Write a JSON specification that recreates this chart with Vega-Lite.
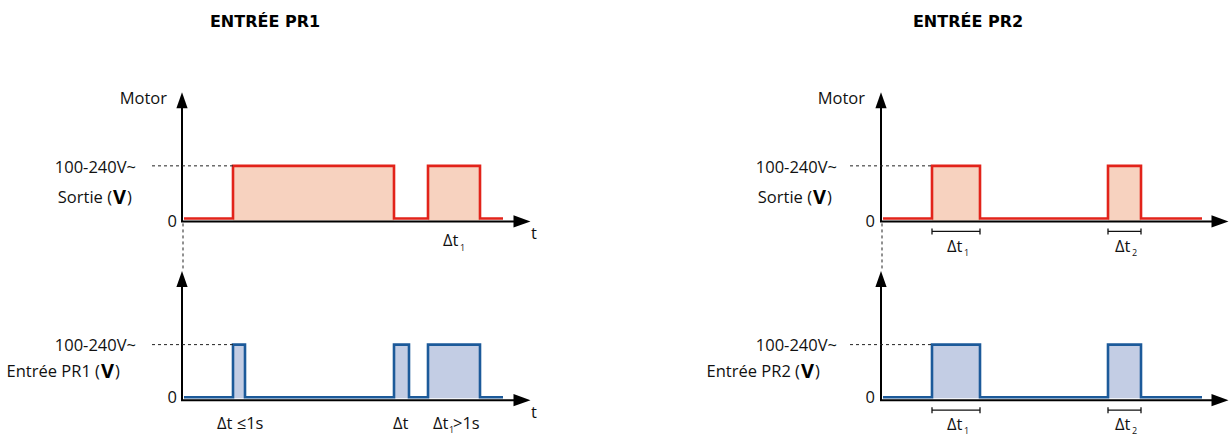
{
  "$schema": "https://vega.github.io/schema/vega-lite/v6.json",
  "width": 1229,
  "height": 436,
  "padding": 0,
  "autosize": {"type": "fit", "contains": "padding"},
  "config": {"view": {"stroke": null}, "text": {"font": "Open Sans", "fontSize": 16.5, "color": "#111"}},
  "datasets": {
    "fills": [
      {"x": 233, "x2": 394, "y": 167, "y2": 222, "sig": "motor"},
      {"x": 428, "x2": 480, "y": 167, "y2": 222, "sig": "motor"},
      {"x": 932, "x2": 980, "y": 167, "y2": 222, "sig": "motor"},
      {"x": 1108, "x2": 1141, "y": 167, "y2": 222, "sig": "motor"},
      {"x": 233, "x2": 245, "y": 347, "y2": 401, "sig": "input"},
      {"x": 394, "x2": 409, "y": 347, "y2": 401, "sig": "input"},
      {"x": 428, "x2": 480, "y": 347, "y2": 401, "sig": "input"},
      {"x": 932, "x2": 980, "y": 347, "y2": 401, "sig": "input"},
      {"x": 1108, "x2": 1141, "y": 347, "y2": 401, "sig": "input"}
    ],
    "signals": [
      {"series": "s1", "sig": "motor", "i": 1, "x": 184, "y": 220},
      {"series": "s1", "sig": "motor", "i": 2, "x": 233, "y": 220},
      {"series": "s1", "sig": "motor", "i": 3, "x": 233, "y": 167},
      {"series": "s1", "sig": "motor", "i": 4, "x": 394, "y": 167},
      {"series": "s1", "sig": "motor", "i": 5, "x": 394, "y": 220},
      {"series": "s1", "sig": "motor", "i": 6, "x": 428, "y": 220},
      {"series": "s1", "sig": "motor", "i": 7, "x": 428, "y": 167},
      {"series": "s1", "sig": "motor", "i": 8, "x": 480, "y": 167},
      {"series": "s1", "sig": "motor", "i": 9, "x": 480, "y": 220},
      {"series": "s1", "sig": "motor", "i": 10, "x": 503, "y": 220},
      {"series": "s2", "sig": "input", "i": 1, "x": 184, "y": 400},
      {"series": "s2", "sig": "input", "i": 2, "x": 233, "y": 400},
      {"series": "s2", "sig": "input", "i": 3, "x": 233, "y": 347},
      {"series": "s2", "sig": "input", "i": 4, "x": 245, "y": 347},
      {"series": "s2", "sig": "input", "i": 5, "x": 245, "y": 400},
      {"series": "s2", "sig": "input", "i": 6, "x": 394, "y": 400},
      {"series": "s2", "sig": "input", "i": 7, "x": 394, "y": 347},
      {"series": "s2", "sig": "input", "i": 8, "x": 409, "y": 347},
      {"series": "s2", "sig": "input", "i": 9, "x": 409, "y": 400},
      {"series": "s2", "sig": "input", "i": 10, "x": 428, "y": 400},
      {"series": "s2", "sig": "input", "i": 11, "x": 428, "y": 347},
      {"series": "s2", "sig": "input", "i": 12, "x": 480, "y": 347},
      {"series": "s2", "sig": "input", "i": 13, "x": 480, "y": 400},
      {"series": "s2", "sig": "input", "i": 14, "x": 503, "y": 400},
      {"series": "s3", "sig": "motor", "i": 1, "x": 883, "y": 220},
      {"series": "s3", "sig": "motor", "i": 2, "x": 932, "y": 220},
      {"series": "s3", "sig": "motor", "i": 3, "x": 932, "y": 167},
      {"series": "s3", "sig": "motor", "i": 4, "x": 980, "y": 167},
      {"series": "s3", "sig": "motor", "i": 5, "x": 980, "y": 220},
      {"series": "s3", "sig": "motor", "i": 6, "x": 1108, "y": 220},
      {"series": "s3", "sig": "motor", "i": 7, "x": 1108, "y": 167},
      {"series": "s3", "sig": "motor", "i": 8, "x": 1141, "y": 167},
      {"series": "s3", "sig": "motor", "i": 9, "x": 1141, "y": 220},
      {"series": "s3", "sig": "motor", "i": 10, "x": 1202, "y": 220},
      {"series": "s4", "sig": "input", "i": 1, "x": 883, "y": 400},
      {"series": "s4", "sig": "input", "i": 2, "x": 932, "y": 400},
      {"series": "s4", "sig": "input", "i": 3, "x": 932, "y": 347},
      {"series": "s4", "sig": "input", "i": 4, "x": 980, "y": 347},
      {"series": "s4", "sig": "input", "i": 5, "x": 980, "y": 400},
      {"series": "s4", "sig": "input", "i": 6, "x": 1108, "y": 400},
      {"series": "s4", "sig": "input", "i": 7, "x": 1108, "y": 347},
      {"series": "s4", "sig": "input", "i": 8, "x": 1141, "y": 347},
      {"series": "s4", "sig": "input", "i": 9, "x": 1141, "y": 400},
      {"series": "s4", "sig": "input", "i": 10, "x": 1202, "y": 400}
    ],
    "axes": [
      {"x": 182, "y": 223, "x2": 182, "y2": 105},
      {"x": 181, "y": 223, "x2": 516, "y2": 223},
      {"x": 182, "y": 403, "x2": 182, "y2": 285},
      {"x": 181, "y": 403, "x2": 516, "y2": 403},
      {"x": 881, "y": 223, "x2": 881, "y2": 105},
      {"x": 880, "y": 223, "x2": 1214, "y2": 223},
      {"x": 881, "y": 403, "x2": 881, "y2": 285},
      {"x": 880, "y": 403, "x2": 1214, "y2": 403}
    ],
    "arrowsUp": [
      {"x": 182, "y": 101}, {"x": 182, "y": 281}, {"x": 881, "y": 101}, {"x": 881, "y": 281}
    ],
    "arrowsRight": [
      {"x": 522, "y": 223}, {"x": 522, "y": 403}, {"x": 1220, "y": 223}, {"x": 1220, "y": 403}
    ],
    "dashes": [
      {"x": 152, "y": 167, "x2": 233, "y2": 167},
      {"x": 152, "y": 347, "x2": 233, "y2": 347},
      {"x": 850, "y": 167, "x2": 932, "y2": 167},
      {"x": 850, "y": 347, "x2": 932, "y2": 347},
      {"x": 183, "y": 225, "x2": 183, "y2": 272},
      {"x": 882, "y": 225, "x2": 882, "y2": 272}
    ],
    "brackets": [
      {"x": 932, "y": 233, "x2": 980, "y2": 233},
      {"x": 932, "y": 230, "x2": 932, "y2": 236},
      {"x": 980, "y": 230, "x2": 980, "y2": 236},
      {"x": 1108, "y": 233, "x2": 1141, "y2": 233},
      {"x": 1108, "y": 230, "x2": 1108, "y2": 236},
      {"x": 1141, "y": 230, "x2": 1141, "y2": 236},
      {"x": 932, "y": 413, "x2": 980, "y2": 413},
      {"x": 932, "y": 410, "x2": 932, "y2": 416},
      {"x": 980, "y": 410, "x2": 980, "y2": 416},
      {"x": 1108, "y": 413, "x2": 1141, "y2": 413},
      {"x": 1108, "y": 410, "x2": 1108, "y2": 416},
      {"x": 1141, "y": 410, "x2": 1141, "y2": 416}
    ],
    "titles": [
      {"x": 265, "y": 22, "text": "ENTRÉE PR1"},
      {"x": 968, "y": 22, "text": "ENTRÉE PR2"}
    ],
    "labelsRight": [
      {"x": 167, "y": 100, "text": "Motor"},
      {"x": 136, "y": 169, "text": "100-240V~"},
      {"x": 177, "y": 224, "text": "0"},
      {"x": 136, "y": 348, "text": "100-240V~"},
      {"x": 177, "y": 401, "text": "0"},
      {"x": 865, "y": 100, "text": "Motor"},
      {"x": 837, "y": 169, "text": "100-240V~"},
      {"x": 875, "y": 224, "text": "0"},
      {"x": 837, "y": 348, "text": "100-240V~"},
      {"x": 875, "y": 401, "text": "0"},
      {"x": 112, "y": 199, "text": "Sortie ("},
      {"x": 100, "y": 375, "text": "Entrée PR1 ("},
      {"x": 812, "y": 199, "text": "Sortie ("},
      {"x": 800, "y": 375, "text": "Entrée PR2 ("}
    ],
    "symbols": [
      {"x": 119.5, "y": 199, "text": "V"},
      {"x": 107.5, "y": 375, "text": "V"},
      {"x": 819.5, "y": 199, "text": "V"},
      {"x": 807.5, "y": 375, "text": "V"}
    ],
    "labelsLeft": [
      {"x": 127, "y": 199, "text": ")"},
      {"x": 115, "y": 375, "text": ")"},
      {"x": 827, "y": 199, "text": ")"},
      {"x": 815, "y": 375, "text": ")"},
      {"x": 443, "y": 243, "text": "Δt"},
      {"x": 217, "y": 427, "text": "Δt ≤1s"},
      {"x": 393, "y": 427, "text": "Δt"},
      {"x": 433, "y": 427, "text": "Δt"},
      {"x": 453, "y": 427, "text": ">1s"},
      {"x": 947, "y": 249, "text": "Δt"},
      {"x": 1115, "y": 249, "text": "Δt"},
      {"x": 947, "y": 428, "text": "Δt"},
      {"x": 1115, "y": 428, "text": "Δt"},
      {"x": 531, "y": 236, "text": "t"},
      {"x": 531, "y": 416, "text": "t"}
    ],
    "subs": [
      {"x": 460, "y": 250, "text": "1"},
      {"x": 449, "y": 433, "text": "1"},
      {"x": 964, "y": 255, "text": "1"},
      {"x": 1132, "y": 255, "text": "2"},
      {"x": 964, "y": 434, "text": "1"},
      {"x": 1132, "y": 434, "text": "2"}
    ]
  },
  "layer": [
    {
      "data": {"name": "fills"},
      "mark": {"type": "rect"},
      "encoding": {
        "x": {"field": "x", "type": "quantitative", "scale": {"domain": [0, 1229], "nice": false, "zero": false}, "axis": null},
        "x2": {"field": "x2"},
        "y": {"field": "y", "type": "quantitative", "scale": {"domain": [0, 436], "nice": false, "zero": false, "reverse": true}, "axis": null},
        "y2": {"field": "y2"},
        "fill": {"field": "sig", "type": "nominal", "scale": {"domain": ["motor", "input"], "range": ["#f7d2bf", "#c3cde4"]}, "legend": null}
      }
    },
    {
      "data": {"name": "signals"},
      "mark": {"type": "line", "strokeWidth": 2.6, "strokeJoin": "miter", "strokeCap": "butt"},
      "encoding": {
        "x": {"field": "x", "type": "quantitative", "axis": null},
        "y": {"field": "y", "type": "quantitative", "axis": null},
        "order": {"field": "i", "type": "quantitative"},
        "detail": {"field": "series", "type": "nominal"},
        "stroke": {"field": "sig", "type": "nominal", "scale": {"domain": ["motor", "input"], "range": ["#e2231a", "#1c5a9a"]}, "legend": null}
      }
    },
    {
      "data": {"name": "axes"},
      "mark": {"type": "rule", "color": "#000", "strokeWidth": 2},
      "encoding": {
        "x": {"field": "x", "type": "quantitative", "axis": null},
        "y": {"field": "y", "type": "quantitative", "axis": null},
        "x2": {"field": "x2"},
        "y2": {"field": "y2"}
      }
    },
    {
      "data": {"name": "arrowsUp"},
      "mark": {"type": "point", "shape": "M0,-1L-0.7,1L0.7,1Z", "filled": true, "color": "#000", "opacity": 1, "size": 256},
      "encoding": {
        "x": {"field": "x", "type": "quantitative", "axis": null},
        "y": {"field": "y", "type": "quantitative", "axis": null}
      }
    },
    {
      "data": {"name": "arrowsRight"},
      "mark": {"type": "point", "shape": "M1,0L-1,-0.72L-1,0.72Z", "filled": true, "color": "#000", "opacity": 1, "size": 289},
      "encoding": {
        "x": {"field": "x", "type": "quantitative", "axis": null},
        "y": {"field": "y", "type": "quantitative", "axis": null}
      }
    },
    {
      "data": {"name": "dashes"},
      "mark": {"type": "rule", "color": "#222", "strokeWidth": 1, "strokeDash": [3, 3]},
      "encoding": {
        "x": {"field": "x", "type": "quantitative", "axis": null},
        "y": {"field": "y", "type": "quantitative", "axis": null},
        "x2": {"field": "x2"},
        "y2": {"field": "y2"}
      }
    },
    {
      "data": {"name": "brackets"},
      "mark": {"type": "rule", "color": "#111", "strokeWidth": 1.3},
      "encoding": {
        "x": {"field": "x", "type": "quantitative", "axis": null},
        "y": {"field": "y", "type": "quantitative", "axis": null},
        "x2": {"field": "x2"},
        "y2": {"field": "y2"}
      }
    },
    {
      "data": {"name": "titles"},
      "mark": {"type": "text", "font": "DejaVu Sans", "fontWeight": "bold", "fontSize": 16, "align": "center", "baseline": "middle", "color": "#000"},
      "encoding": {
        "x": {"field": "x", "type": "quantitative", "axis": null},
        "y": {"field": "y", "type": "quantitative", "axis": null},
        "text": {"field": "text"}
      }
    },
    {
      "data": {"name": "labelsRight"},
      "mark": {"type": "text", "align": "right", "baseline": "middle"},
      "encoding": {
        "x": {"field": "x", "type": "quantitative", "axis": null},
        "y": {"field": "y", "type": "quantitative", "axis": null},
        "text": {"field": "text"}
      }
    },
    {
      "data": {"name": "symbols"},
      "mark": {"type": "text", "align": "center", "baseline": "middle", "fontWeight": "bold", "fontSize": 20, "color": "#000"},
      "encoding": {
        "x": {"field": "x", "type": "quantitative", "axis": null},
        "y": {"field": "y", "type": "quantitative", "axis": null},
        "text": {"field": "text"}
      }
    },
    {
      "data": {"name": "labelsLeft"},
      "mark": {"type": "text", "align": "left", "baseline": "middle"},
      "encoding": {
        "x": {"field": "x", "type": "quantitative", "axis": null},
        "y": {"field": "y", "type": "quantitative", "axis": null},
        "text": {"field": "text"}
      }
    },
    {
      "data": {"name": "subs"},
      "mark": {"type": "text", "align": "left", "baseline": "middle", "fontSize": 9},
      "encoding": {
        "x": {"field": "x", "type": "quantitative", "axis": null},
        "y": {"field": "y", "type": "quantitative", "axis": null},
        "text": {"field": "text"}
      }
    }
  ]
}
